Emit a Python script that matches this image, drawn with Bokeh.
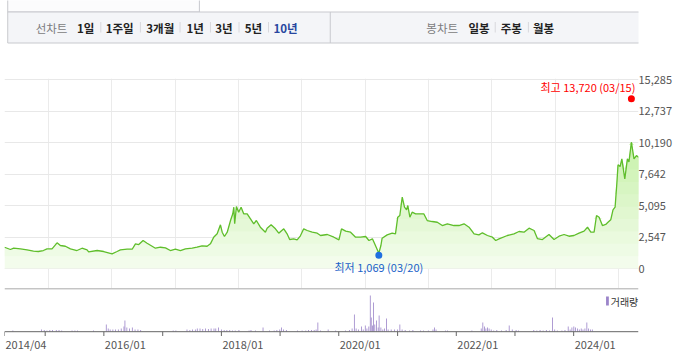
import numpy as np
import pandas as pd
from bokeh.plotting import figure
from bokeh.layouts import column
from bokeh.models import (Range1d, FixedTicker, NumeralTickFormatter, Grid, Label, Span,
                          ColumnDataSource)
from bokeh.core.properties import value
from bokeh.embed import file_html
from bokeh.resources import INLINE

FONT = "Noto Sans CJK KR"

# ---------------- data ----------------
menu_left = ["선차트", "1일", "1주일", "3개월", "1년", "3년", "5년", "10년"]
menu_right = ["봉차트", "일봉", "주봉", "월봉"]
volume_name = "거래량"

price_dates = [
    "2014-04-23", "2014-05-27", "2014-06-15", "2014-07-24", "2014-08-31", "2014-10-07", "2014-11-04", "2014-12-03", "2014-12-24",
    "2015-01-22", "2015-02-20", "2015-03-11", "2015-04-09", "2015-05-08", "2015-06-15", "2015-07-14", "2015-08-12", "2015-08-21", "2015-10-09", "2015-11-16",
    "2016-01-03", "2016-02-01", "2016-02-20", "2016-03-30", "2016-04-28", "2016-05-17", "2016-06-05", "2016-06-30", "2016-07-23", "2016-08-21", "2016-09-09", "2016-10-08", "2016-11-06", "2016-12-04",
    "2017-01-02", "2017-01-31", "2017-03-01", "2017-04-09", "2017-05-07", "2017-06-05", "2017-07-04", "2017-07-23", "2017-08-11", "2017-08-31", "2017-09-19", "2017-09-29", "2017-10-12", "2017-10-28", "2017-11-16", "2017-11-29", "2017-12-05", "2017-12-10", "2017-12-20",
    "2018-01-02", "2018-01-16", "2018-01-31", "2018-02-20", "2018-03-11", "2018-03-30", "2018-04-14", "2018-05-07", "2018-06-05", "2018-06-15", "2018-07-08", "2018-08-02", "2018-08-21", "2018-09-19", "2018-10-08", "2018-10-23", "2018-11-15", "2018-12-05", "2018-12-24",
    "2019-01-12", "2019-02-01", "2019-03-02", "2019-03-31", "2019-04-19", "2019-05-28", "2019-07-05", "2019-08-03", "2019-08-18", "2019-09-11", "2019-10-09", "2019-11-07", "2019-12-06",
    "2020-01-04", "2020-01-23", "2020-02-12", "2020-02-25", "2020-03-20", "2020-04-01", "2020-04-08", "2020-05-07", "2020-06-05", "2020-06-24", "2020-07-07", "2020-07-19", "2020-08-02", "2020-08-15", "2020-08-27", "2020-09-03", "2020-09-15", "2020-09-28", "2020-10-18", "2020-11-06", "2020-12-04", "2020-12-24",
    "2021-01-22", "2021-02-20", "2021-03-21", "2021-04-19", "2021-05-27", "2021-06-25", "2021-07-24", "2021-08-22", "2021-09-20", "2021-10-18", "2021-11-07", "2021-12-06",
    "2022-01-04", "2022-01-23", "2022-02-11", "2022-03-31", "2022-05-08", "2022-06-06", "2022-07-05", "2022-08-03", "2022-09-01", "2022-09-20", "2022-10-19", "2022-11-26", "2022-12-25",
    "2023-01-23", "2023-02-21", "2023-03-21", "2023-04-19", "2023-05-18", "2023-06-16", "2023-07-06", "2023-07-25", "2023-08-13", "2023-08-27", "2023-09-11", "2023-09-30", "2023-10-19", "2023-11-01", "2023-11-17", "2023-11-30", "2023-12-12", "2023-12-22", "2023-12-29",
    "2024-01-10", "2024-01-20", "2024-02-06", "2024-02-21", "2024-03-01", "2024-03-15", "2024-03-30", "2024-04-13", "2024-04-25",
]
price_values = [
    1720, 1536, 1640, 1590, 1510, 1400, 1375, 1455, 1590,
    1590, 2078, 1860, 1800, 1590, 1455, 1640, 1510, 1350, 1455, 1375,
    1185, 1375, 1510, 1560, 1560, 1995, 1940, 2264, 2046, 1800, 1640, 1720, 1670, 1455,
    1560, 1455, 1590, 1640, 1720, 1835, 1800, 1995, 2530, 2806, 3534, 2936, 2588, 2936, 3880, 4424, 4960, 3615, 5014,
    4553, 4960, 4424, 4424, 4019, 3615, 3880, 3340, 2936, 3260, 3534, 3210, 2855, 3210, 2806, 2345, 2400, 2320, 2644,
    3210, 3073, 2936, 2855, 2669, 2750, 2530, 2320, 3210, 3020, 2936, 2530, 2530,
    2588, 2264, 2400, 1995, 1237, 1860, 2450, 2720, 2855, 2806, 4149, 4286, 5766, 4960, 4740, 5095, 4149, 4553, 4424, 4424, 4424, 3880,
    3800, 3740, 3477, 3615, 3477, 3477, 3615, 3340, 2806, 2720, 2887, 2669,
    2530, 2264, 2400, 2669, 2806, 2992, 2936, 3260, 3073, 2418, 2340, 2750, 2345,
    2610, 2750, 2610, 2669, 2855, 3020, 3340, 2936, 2936, 4286, 4149, 3477, 3560, 3740, 3938, 4747, 4960, 6850, 8386,
    8249, 8871, 7254, 8871, 8626, 10214, 8871, 9138, 9001,
]

max_date, max_value = "2024-03-15", 13720
min_date, min_value = "2020-03-20", 1069

price_ticks = [0, 2547, 5095, 7642, 10190, 12737, 15285]

date_ticks = ["2014-04-23", "2015-01-01", "2016-01-01", "2017-01-01", "2018-01-01", "2019-01-01",
              "2020-01-01", "2021-01-01", "2022-01-01", "2023-01-01", "2024-01-01"]
date_tick_labels = ["2014/04", "", "2016/01", "", "2018/01", "", "2020/01", "", "2022/01", "", "2024/01"]

vol_dates = [
    "2014-06-14", "2014-12-09", "2014-12-26", "2015-01-12", "2015-01-30", "2015-02-16", "2015-03-11", "2015-03-28", "2015-04-14", "2015-06-17", "2015-07-05", "2015-07-22", "2015-10-28",
    "2016-01-16", "2016-01-28", "2016-02-09", "2016-02-26", "2016-03-14", "2016-03-31", "2016-04-18", "2016-05-05", "2016-05-11", "2016-05-23", "2016-06-09", "2016-06-26", "2016-07-13", "2016-07-31", "2016-08-17",
    "2017-03-07", "2017-03-24", "2017-06-01", "2017-06-19", "2017-07-06", "2017-07-23", "2017-08-04", "2017-08-21", "2017-09-07", "2017-09-24", "2017-10-12", "2017-10-29", "2017-11-16", "2017-11-27", "2017-12-14",
    "2018-01-01", "2018-01-18", "2018-02-04", "2018-02-22", "2018-03-11", "2018-03-28", "2018-04-20", "2018-06-22", "2018-07-04", "2018-08-02", "2018-09-17", "2018-10-27", "2018-11-25", "2018-12-12", "2018-12-30",
    "2019-01-10", "2019-01-22", "2019-02-09", "2019-04-19", "2019-05-18", "2019-06-10", "2019-06-27", "2019-07-15", "2019-08-01", "2019-08-13", "2019-08-24", "2019-09-09", "2019-10-27", "2019-12-13",
    "2020-02-12", "2020-03-07", "2020-03-24", "2020-04-07", "2020-04-18", "2020-05-02", "2020-05-22", "2020-06-01", "2020-06-14", "2020-06-24", "2020-07-06", "2020-07-15", "2020-07-21", "2020-07-29", "2020-08-04", "2020-08-12", "2020-08-23", "2020-09-02", "2020-09-08", "2020-09-19", "2020-10-01", "2020-10-11", "2020-10-24", "2020-11-03", "2020-11-22", "2020-12-12", "2020-12-31",
    "2021-01-15", "2021-01-29", "2021-02-17", "2021-03-17", "2021-04-06", "2021-05-23", "2021-06-12", "2021-07-11", "2021-08-09", "2021-08-18", "2021-08-28", "2021-10-25", "2021-11-07",
    "2022-04-08", "2022-06-05", "2022-06-15", "2022-06-25", "2022-07-04", "2022-07-14", "2022-07-24", "2022-08-06", "2022-08-22", "2022-09-10", "2022-10-09", "2022-11-07", "2022-11-26", "2022-12-15",
    "2023-01-08", "2023-01-23", "2023-04-28", "2023-05-17", "2023-06-06", "2023-06-25", "2023-07-15", "2023-08-03", "2023-08-23", "2023-09-05", "2023-09-21", "2023-10-20", "2023-11-08", "2023-11-28", "2023-12-10", "2023-12-21",
    "2024-01-02", "2024-01-13", "2024-01-25", "2024-02-05", "2024-02-17", "2024-02-28", "2024-03-11", "2024-03-23", "2024-04-03", "2024-04-15", "2024-04-26",
]
vol_values = [
    10, 20, 15, 10, 15, 15, 15, 15, 10, 10, 10, 10, 10,
    70, 30, 20, 20, 20, 20, 30, 50, 110, 40, 30, 40, 20, 20, 15,
    10, 10, 20, 15, 20, 20, 30, 30, 25, 30, 25, 30, 30, 30, 40,
    20, 15, 15, 15, 10, 10, 15, 10, 15, 10, 40, 10, 10, 15, 20,
    40, 20, 15, 10, 10, 10, 15, 15, 15, 20, 90, 10, 20, 10,
    10, 15, 30, 170, 30, 20, 50, 20, 60, 30, 50, 360, 140, 60, 290, 70, 110, 40, 160, 40, 20, 30, 130, 20, 20, 20, 20,
    70, 20, 15, 10, 15, 10, 10, 10, 20, 40, 20, 10, 10,
    10, 30, 90, 50, 30, 40, 30, 20, 10, 15, 10, 15, 60, 20,
    15, 10, 15, 10, 15, 10, 15, 10, 140, 20, 10, 10, 15, 50, 20, 40,
    50, 40, 30, 20, 30, 20, 30, 90, 30, 20, 20,
]

# ---------------- helpers ----------------
def to_ms(d):
    return pd.Timestamp(d).value / 1e6

price_dt = pd.to_datetime(price_dates)
price_arr = np.array(price_values, dtype=float)
start_ms = to_ms(price_dates[0])
end_ms = to_ms(price_dates[-1])
tick_ms = [to_ms(d) for d in date_ticks]

# ---------------- header bar ----------------
hdr = figure(width=688, height=50, x_range=Range1d(0, 688), y_range=Range1d(50, 0),
             toolbar_location=None, output_backend="svg", min_border=0,
             x_axis_location=None, y_axis_location=None, outline_line_color=None)
hdr.grid.visible = False
hdr.quad(left=[3.5], right=[211.5], top=[-3], bottom=[11.5],
         fill_color="#fcfcfd", line_color="#c8c9ce", line_width=1)
hdr.quad(left=[3.5], right=[700], top=[11.5], bottom=[42.5],
         fill_color="#f4f5f8", line_color="#c8c9ce", line_width=1)
hdr.segment(x0=[353.5], y0=[11.5], x1=[353.5], y1=[42.5], line_color="#c8c9ce", line_width=1)

left_x = [51, 88, 125, 169, 207, 238, 270, 305]
right_x = [475, 515, 550, 585]
sep_x = [104.5, 147.5, 190.5, 223.5, 254.5, 286.5, 532.5, 568.5]
hdr.segment(x0=sep_x, y0=[21.5] * len(sep_x), x1=sep_x, y1=[32] * len(sep_x),
            line_color="#d8d8dc", line_width=1)

texts = menu_left + menu_right
xs = left_x + right_x
colors = ["#7c7c80"] + ["#222222"] * 6 + ["#27469f"] + ["#7c7c80"] + ["#222222"] * 3
styles = ["normal"] + ["bold"] * 7 + ["normal"] + ["bold"] * 3
hsrc = ColumnDataSource(dict(x=xs, y=[27] * len(xs), text=texts, color=colors, style=styles))
hdr.text(x="x", y="y", text="text", source=hsrc, text_color="color", text_font_style="style",
         text_align="center", text_baseline="middle",
         text_font=value(FONT), text_font_size=value("11.5px"))

# ---------------- price chart ----------------
y_top = 15366
y_bot = -1617
p = figure(width=688, height=238, x_range=Range1d(start_ms, end_ms), y_range=Range1d(y_bot, y_top),
           x_axis_type="datetime", x_axis_location=None, y_axis_location="right",
           toolbar_location=None, output_backend="svg",
           min_border_left=4, min_border_right=50, min_border_top=28, min_border_bottom=0,
           outline_line_color=None, background_fill_color="white", border_fill_color="white")
p.grid.visible = False
p.add_layout(Grid(dimension=0, ticker=FixedTicker(ticks=tick_ms), grid_line_color="#ebebeb"))
p.add_layout(Grid(dimension=1, ticker=FixedTicker(ticks=price_ticks), grid_line_color="#e8e8e8"))

ya = p.yaxis[0]
ya.ticker = FixedTicker(ticks=price_ticks)
ya.formatter = NumeralTickFormatter(format="0,0")
ya.axis_line_color = None
ya.major_tick_line_color = None
ya.minor_tick_line_color = None
ya.major_tick_out = 0
ya.major_tick_in = 0
ya.major_label_standoff = 0
ya.major_label_text_font = FONT
ya.major_label_text_font_size = "11px"
ya.major_label_text_color = "#555555"

# gradient-like fill under the curve (layers by level)
c0 = np.array([243, 252, 236])
c1 = np.array([196, 240, 165])
levels = list(range(0, 11000, 1000))
for lv in levels:
    t = min(lv / 10200.0, 1.0)
    c = (c0 + (c1 - c0) * t).round().astype(int)
    col = "#%02x%02x%02x" % tuple(c)
    p.varea(x=price_dt, y1=np.full(len(price_arr), float(lv)), y2=np.maximum(price_arr, lv),
            fill_color=col, fill_alpha=1.0)

p.line(x=price_dt, y=price_arr, line_color="#5fbe2b", line_width=1.3)

p.scatter(x=pd.to_datetime([max_date]), y=[max_value], size=7, fill_color="#ff0000", line_color=None)
p.scatter(x=pd.to_datetime([min_date]), y=[min_value], size=7, fill_color="#1f6fe0", line_color=None)

max_txt = "최고 {:,} ({}/{})".format(max_value, max_date[5:7], max_date[8:10])
min_txt = "최저 {:,} ({}/{})".format(min_value, min_date[5:7], min_date[8:10])
p.add_layout(Label(x=to_ms(max_date), y=max_value, text=max_txt, text_align="right",
                   text_baseline="middle", x_offset=4, y_offset=12, text_color="#ff0000",
                   text_font=FONT, text_font_size="11px"))
p.add_layout(Label(x=to_ms(min_date), y=min_value, text=min_txt, text_align="center",
                   text_baseline="middle", x_offset=0, y_offset=-12, text_color="#1a62c8",
                   text_font=FONT, text_font_size="11px"))

# ---------------- volume chart ----------------
# frame covers the whole panel; 10 volume units per pixel, baseline 43 px below the top
VOL_W = 684.0
vol_end = start_ms + (end_ms - start_ms) * VOL_W / 634.0
ms_per_px = (vol_end - start_ms) / VOL_W
pv = figure(width=688, height=74, x_range=Range1d(start_ms, vol_end), y_range=Range1d(-310, 430),
            x_axis_location=None, y_axis_location=None, toolbar_location=None, output_backend="svg",
            min_border_left=4, min_border_right=0, min_border_top=0, min_border_bottom=0,
            outline_line_color=None, background_fill_color="white", border_fill_color="white")
pv.grid.visible = False

vr = pv.vbar(x=pd.to_datetime(vol_dates), top=vol_values, width=5 * 86400000,
             fill_color="#9b84c9", line_color=None)

pv.add_layout(Span(location=428, dimension="width", line_color="#6e6e6e", line_width=1))
pv.add_layout(Span(location=-2, dimension="width", line_color="#666666", line_width=1))
pv.segment(x0=tick_ms, y0=[-2] * len(tick_ms), x1=tick_ms, y1=[-45] * len(tick_ms),
           line_color="#666666", line_width=1)

lab_ms = [to_ms(d) for d, l in zip(date_ticks, date_tick_labels) if l]
lab_txt = [l for l in date_tick_labels if l]
pv.text(x=lab_ms, y=[-125] * len(lab_ms), text=lab_txt, text_align="left", text_baseline="middle",
        x_offset=1, text_color="#555555", text_font=value(FONT), text_font_size=value("11px"))

# legend swatch + name, placed near the panel's top-right corner
leg_x = vol_end - 35 * ms_per_px
pv.quad(left=[leg_x], right=[leg_x + 3 * ms_per_px], top=[350], bottom=[260],
        fill_color="#9b84c9", line_color=None)
pv.text(x=[leg_x + 5 * ms_per_px], y=[305], text=[volume_name], text_align="left",
        text_baseline="middle", text_color="#333333", text_font=value(FONT),
        text_font_size=value("10px"))

layout = column(hdr, p, pv)

open("out.html", "w", encoding="utf-8").write(file_html(layout, INLINE, "chart"))
